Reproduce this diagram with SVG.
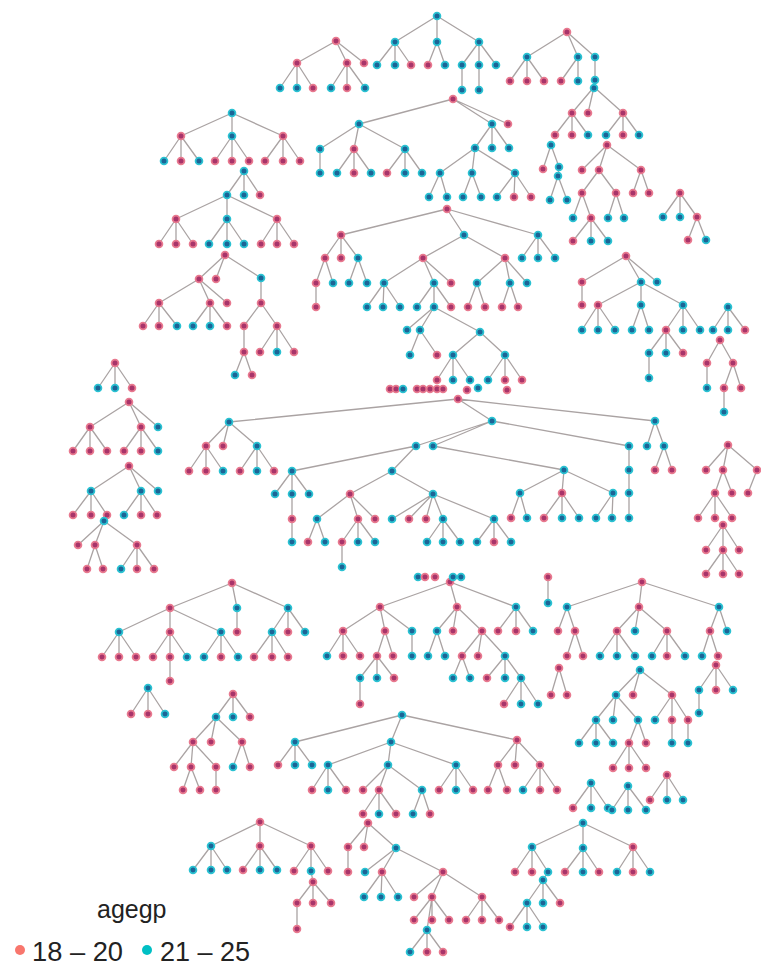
<svg xmlns="http://www.w3.org/2000/svg" width="761" height="969" viewBox="0 0 761 969">
<style>
.e{fill:none;stroke:#aaa3a3;stroke-width:1.3}
circle{r:3.4px;stroke-width:1.8}
.p{fill:#a8346a;stroke:#e8798f}
.t{fill:#1c6496;stroke:#2ac2d2}
.lg{font-family:"Liberation Sans",Arial,sans-serif;fill:#222}
</style>
<rect width="761" height="969" fill="#fff"/>
<g id="connectors" class="e">
<path d="M336 41L297 63M336 41L347 63M336 41L364 63M297 63L280 88M297 63L297 88M297 63L313 88M347 63L331 88M347 63L347 88M347 63L365 88"/>
<path d="M437 16L395 42M437 16L437 42M437 16L479 42M395 42L377 65M395 42L395 65M395 42L411 65M437 42L428 65M437 42L445 65M479 42L462 65M479 42L479 65M479 42L496 65M462 65L462 90M479 65L479 90"/>
<path d="M567 32L527 57M567 32L578 57M567 32L595 57M527 57L510 81M527 57L527 81M527 57L544 81M578 57L561 81M578 57L578 81M595 57L595 87"/>
<path d="M594 87L572 113M594 87L588 113M594 87L623 113M572 113L555 135M572 113L572 135M572 113L588 135M623 113L606 135M623 113L623 135M623 113L639 135"/>
<path d="M551 145L543 169M551 145L559 167L558 176M558 176L550 200M558 176L567 200"/>
<path d="M607 145L582 170M607 145L599 170M607 145L641 170M599 170L582 193M599 170L616 193M641 170L633 193M641 170L649 193M582 193L573 218M582 193L591 218M616 193L608 218M616 193L624 218M591 218L573 241M591 218L591 241M591 218L608 241"/>
<path d="M680 193L663 217M680 193L680 217M680 193L697 217M697 217L688 240M697 217L706 240"/>
<path d="M626 256L582 282M626 256L641 282M626 256L657 282M582 282L582 305M641 282L598 305M641 282L641 305M641 282L683 305M598 305L582 330M598 305L598 330M598 305L615 330M641 305L632 330M641 305L649 330M683 305L666 330M683 305L683 330M683 305L700 330M666 330L649 353M666 330L666 353M666 330L683 353M649 353L649 378"/>
<path d="M728 307L713 330M728 307L728 330M728 307L745 330"/>
<path d="M720 340L707 363M720 340L733 363M707 363L707 388M733 363L724 388M733 363L741 388M724 388L724 412"/>
<path d="M232 113L181 136M232 113L232 136M232 113L283 136M181 136L164 161M181 136L181 161M181 136L199 161M232 136L215 161M232 136L232 161M232 136L249 161M283 136L265 161M283 136L283 161M283 136L300 161"/>
<path d="M244 171L227 195M244 171L244 195M244 171L260 195M227 195L176 219M227 195L227 219M227 195L277 219M176 219L159 244M176 219L176 244M176 219L193 244M227 219L209 244M227 219L227 244M227 219L244 244M277 219L261 244M277 219L277 244M277 219L294 244"/>
<path d="M225 255L199 279M225 255L216 279M225 255L261 278M199 279L159 303M199 279L210 303M199 279L227 303M261 278L261 303M159 303L143 326M159 303L159 326M159 303L177 326M210 303L193 326M210 303L210 326M210 303L227 326M261 303L244 326M261 303L277 326M244 326L244 352M244 352L235 375M244 352L252 375M277 326L260 352M277 326L277 352M277 326L294 352"/>
<path d="M453 99L359 124M453 99L492 124M453 99L508 124M359 124L320 149M359 124L354 149M359 124L405 149M320 149L320 173M354 149L337 173M354 149L354 173M354 149L371 173M405 149L387 173M405 149L405 173M405 149L422 173M492 124L475 148M492 124L492 148M492 124L509 148M475 148L440 173M475 148L472 173M475 148L515 173M440 173L429 197M440 173L447 197M472 173L463 197M472 173L481 197M515 173L497 197M515 173L514 197M515 173L531 197"/>
<path d="M447 209L341 235M447 209L464 235M447 209L538 235M341 235L325 258M341 235L341 258M341 235L358 258M325 258L316 283M325 258L333 283M358 258L349 283M358 258L367 283M316 283L316 307M464 235L423 258M464 235L505 258M423 258L384 283M423 258L434 283M423 258L451 283M384 283L367 307M384 283L383 307M384 283L400 307M434 283L417 307M434 283L434 307M434 283L451 307M505 258L477 283M505 258L510 283M505 258L527 283M477 283L468 307M477 283L485 307M510 283L502 307M510 283L518 307M538 235L522 258M538 235L538 258M538 235L555 258"/>
<path d="M434 307L407 330M434 307L420 330M434 307L480 332M420 330L410 355M420 330L437 355M480 332L453 355M480 332L505 355M453 355L437 380M453 355L453 380M453 355L470 380M505 355L488 380M505 355L505 380M505 355L522 380"/>
<path d="M458 399L229 422M458 399L492 421M458 399L655 421M229 422L206 446M229 422L223 446M229 422L257 446M206 446L189 471M206 446L206 471M206 446L223 471M257 446L240 471M257 446L257 471M257 446L274 471M492 421L416 446M492 421L433 446M492 421L629 446M416 446L292 471M416 446L392 471M292 471L275 494M292 471L292 494M292 471L309 494M292 494L292 519L292 542M392 471L350 494M392 471L433 494M350 494L317 519M350 494L358 519M350 494L375 519M317 519L308 542M317 519L325 542M358 519L342 542M358 519L358 542M358 519L375 542M342 542L342 567M433 494L392 519M433 494L409 519M433 494L426 519M433 494L443 519M433 494L494 519M443 519L427 542M443 519L443 542M443 519L460 542M494 519L477 542M494 519L494 542M494 519L511 542M433 446L564 470M564 470L520 493M564 470L562 493M564 470L613 493M520 493L511 518M520 493L527 518M562 493L544 518M562 493L562 518M562 493L579 518M613 493L596 518M613 493L612 518M629 446L629 470L629 493L629 518M655 421L647 446M655 421L664 446M664 446L655 470M664 446L672 470"/>
<path d="M115 363L98 388M115 363L115 388M115 363L132 388"/>
<path d="M129 402L90 427M129 402L141 427M129 402L158 427M90 427L73 451M90 427L90 451M90 427L107 451M141 427L124 451M141 427L141 451M141 427L158 451"/>
<path d="M129 466L91 491M129 466L141 491M129 466L158 491M91 491L73 515M91 491L91 515M91 491L107 515M141 491L124 515M141 491L141 515M141 491L157 515"/>
<path d="M104 521L78 545M104 521L95 545M104 521L137 545M95 545L87 569M95 545L103 569M137 545L121 569M137 545L137 569M137 545L154 569"/>
<path d="M232 583L170 608M232 583L237 608M232 583L288 608M170 608L119 632M170 608L170 632M170 608L221 632M237 608L237 632M288 608L272 632M288 608L288 632M288 608L305 632M119 632L102 657M119 632L119 657M119 632L136 657M170 632L153 657M170 632L170 657M170 632L187 657M221 632L204 657M221 632L221 657M221 632L238 657M272 632L254 657M272 632L272 657M272 632L288 657M170 657L170 681"/>
<path d="M148 688L131 714M148 688L148 714M148 688L165 714"/>
<path d="M233 694L216 717M233 694L233 717M233 694L250 717M216 717L193 742M216 717L211 742M216 717L242 742M193 742L174 767M193 742L191 767M193 742L216 767M242 742L233 767M242 742L250 767M191 767L183 790M191 767L200 790M216 767L216 790"/>
<path d="M402 715L295 742M402 715L391 742M402 715L517 740M295 742L278 765M295 742L295 765M295 742L312 765M391 742L328 765M391 742L388 765M391 742L456 765M328 765L312 790M328 765L328 790M328 765L346 790M388 765L363 790M388 765L379 790M388 765L422 790M379 790L363 814M379 790L379 814M379 790L396 814M422 790L413 814M422 790L430 814M456 765L439 790M456 765L456 790M456 765L473 790M517 740L498 765M517 740L515 765M517 740L540 765M498 765L488 790M498 765L507 790M540 765L523 790M540 765L540 790M540 765L557 790"/>
<path d="M260 822L211 846M260 822L260 846M260 822L311 846M211 846L193 870M211 846L211 870M211 846L227 870M260 846L243 870M260 846L260 870M260 846L277 870M311 846L294 871M311 846L311 871M311 846L328 871M311 871L313 882M313 882L297 903M313 882L313 903M313 882L331 903M297 903L297 929"/>
<path d="M368 823L348 847M368 823L364 847M368 823L396 848M348 847L348 872M396 848L365 872M396 848L382 872M396 848L443 872M382 872L364 897M382 872L381 897M382 872L398 897M443 872L414 897M443 872L432 897M443 872L482 897M432 897L414 920M432 897L432 920M432 897L449 920M432 897L427 930M427 930L410 952M427 930L427 952M427 930L443 952M482 897L466 920M482 897L482 920M482 897L499 920"/>
<path d="M583 823L532 847M583 823L583 848M583 823L633 847M532 847L515 872M532 847L532 872M532 847L548 872M583 848L565 872M583 848L583 872M583 848L599 872M633 847L617 872M633 847L633 872M633 847L650 872M548 872L543 880M543 880L527 903M543 880L543 903M543 880L560 903M527 903L510 927M527 903L527 927M527 903L543 927"/>
<path d="M450 582L380 607M450 582L457 607M450 582L516 607M380 607L343 631M380 607L385 631M380 607L412 631M457 607L437 631M457 607L453 631M457 607L482 631M516 607L498 631M516 607L516 631M516 607L533 631M343 631L327 656M343 631L343 656M343 631L360 656M385 631L377 656M385 631L393 656M412 631L412 656M437 631L428 656M437 631L445 656M482 631L462 656M482 631L478 656M482 631L505 656M377 656L360 678M377 656L377 678M377 656L394 678M360 678L360 704M462 656L453 678M462 656L470 678M505 656L487 678M505 656L505 678M505 656L521 678M521 678L504 704M521 678L521 704M521 678L538 704"/>
<path d="M548 577L548 603"/>
<path d="M642 582L567 607M642 582L639 607M642 582L719 607M567 607L558 631M567 607L575 631M575 631L567 656M575 631L583 656M639 607L617 631M639 607L635 631M639 607L667 631M617 631L600 656M617 631L617 656M617 631L635 656M667 631L652 656M667 631L667 656M667 631L685 656M719 607L710 631M719 607L727 631M710 631L702 656M710 631L718 656"/>
<path d="M716 665L699 690M716 665L716 690M716 665L733 690M699 690L699 713"/>
<path d="M559 668L551 695M559 668L567 695"/>
<path d="M640 670L616 695M640 670L633 695M640 670L672 695M616 695L596 720M616 695L613 720M616 695L638 720M596 720L579 743M596 720L596 743M596 720L613 743M638 720L629 743M638 720L646 743M629 743L613 768M629 743L629 768M629 743L646 768M672 695L655 720M672 695L672 720M672 695L688 720M672 720L672 743M688 720L688 743"/>
<path d="M591 783L573 808M591 783L591 808M591 783L608 808M628 786L612 810M628 786L628 810M628 786L646 810M667 775L650 800M667 775L667 800M667 775L683 800"/>
<path d="M728 445L706 470M728 445L723 470M728 445L757 470M723 470L715 493M723 470L732 493M757 470L748 493M715 493L698 518M715 493L715 518M715 493L732 518"/>
<path d="M723 525L706 550M723 525L723 550M723 525L739 550M723 550L706 574M723 550L723 574M723 550L739 574"/>
</g>
<g id="tree-a"><circle class="p" cx="336" cy="41"/><circle class="p" cx="297" cy="63"/><circle class="p" cx="347" cy="63"/><circle class="p" cx="364" cy="63"/><circle class="t" cx="280" cy="88"/><circle class="t" cx="297" cy="88"/><circle class="p" cx="313" cy="88"/><circle class="t" cx="331" cy="88"/><circle class="p" cx="347" cy="88"/><circle class="t" cx="365" cy="88"/></g>
<g id="tree-b"><circle class="t" cx="437" cy="16"/><circle class="t" cx="395" cy="42"/><circle class="t" cx="437" cy="42"/><circle class="t" cx="479" cy="42"/><circle class="t" cx="377" cy="65"/><circle class="t" cx="395" cy="65"/><circle class="p" cx="411" cy="65"/><circle class="p" cx="428" cy="65"/><circle class="t" cx="445" cy="65"/><circle class="t" cx="462" cy="65"/><circle class="t" cx="479" cy="65"/><circle class="t" cx="496" cy="65"/><circle class="t" cx="462" cy="90"/><circle class="t" cx="479" cy="90"/></g>
<g id="tree-c"><circle class="p" cx="567" cy="32"/><circle class="t" cx="527" cy="57"/><circle class="t" cx="578" cy="57"/><circle class="t" cx="595" cy="57"/><circle class="p" cx="510" cy="81"/><circle class="p" cx="527" cy="81"/><circle class="p" cx="544" cy="81"/><circle class="p" cx="561" cy="81"/><circle class="t" cx="578" cy="81"/><circle class="t" cx="595" cy="80"/></g>
<g id="tree-c2"><circle class="t" cx="594" cy="88"/><circle class="p" cx="572" cy="113"/><circle class="p" cx="588" cy="113"/><circle class="p" cx="623" cy="113"/><circle class="p" cx="555" cy="135"/><circle class="p" cx="572" cy="135"/><circle class="t" cx="588" cy="135"/><circle class="t" cx="606" cy="135"/><circle class="p" cx="623" cy="135"/><circle class="t" cx="639" cy="135"/></g>
<g id="tree-c3"><circle class="t" cx="551" cy="145"/><circle class="p" cx="543" cy="169"/><circle class="t" cx="559" cy="167"/><circle class="t" cx="558" cy="176"/><circle class="t" cx="550" cy="200"/><circle class="t" cx="567" cy="200"/></g>
<g id="tree-d"><circle class="p" cx="607" cy="145"/><circle class="p" cx="582" cy="170"/><circle class="p" cx="599" cy="170"/><circle class="p" cx="641" cy="170"/><circle class="p" cx="582" cy="193"/><circle class="p" cx="616" cy="193"/><circle class="p" cx="633" cy="193"/><circle class="p" cx="649" cy="193"/><circle class="t" cx="573" cy="218"/><circle class="p" cx="591" cy="218"/><circle class="t" cx="608" cy="218"/><circle class="t" cx="624" cy="218"/><circle class="p" cx="573" cy="241"/><circle class="t" cx="591" cy="241"/><circle class="t" cx="608" cy="241"/></g>
<g id="tree-e"><circle class="p" cx="680" cy="193"/><circle class="t" cx="663" cy="217"/><circle class="t" cx="680" cy="217"/><circle class="p" cx="697" cy="217"/><circle class="p" cx="688" cy="240"/><circle class="t" cx="706" cy="240"/></g>
<g id="tree-f"><circle class="p" cx="626" cy="256"/><circle class="p" cx="582" cy="282"/><circle class="t" cx="641" cy="282"/><circle class="t" cx="657" cy="282"/><circle class="p" cx="582" cy="305"/><circle class="p" cx="598" cy="305"/><circle class="t" cx="641" cy="305"/><circle class="t" cx="683" cy="305"/><circle class="t" cx="582" cy="330"/><circle class="t" cx="598" cy="330"/><circle class="t" cx="615" cy="330"/><circle class="t" cx="632" cy="330"/><circle class="t" cx="649" cy="330"/><circle class="p" cx="666" cy="330"/><circle class="t" cx="683" cy="330"/><circle class="t" cx="700" cy="330"/><circle class="t" cx="649" cy="353"/><circle class="t" cx="666" cy="353"/><circle class="p" cx="683" cy="353"/><circle class="t" cx="649" cy="378"/></g>
<g id="tree-f2"><circle class="t" cx="728" cy="307"/><circle class="t" cx="713" cy="330"/><circle class="t" cx="728" cy="330"/><circle class="p" cx="745" cy="330"/></g>
<g id="tree-f3"><circle class="p" cx="720" cy="340"/><circle class="p" cx="707" cy="363"/><circle class="p" cx="733" cy="363"/><circle class="t" cx="707" cy="388"/><circle class="p" cx="724" cy="388"/><circle class="p" cx="741" cy="388"/><circle class="t" cx="724" cy="412"/></g>
<g id="tree-g"><circle class="t" cx="232" cy="113"/><circle class="p" cx="181" cy="136"/><circle class="t" cx="232" cy="136"/><circle class="p" cx="283" cy="136"/><circle class="t" cx="164" cy="161"/><circle class="p" cx="181" cy="161"/><circle class="t" cx="199" cy="161"/><circle class="p" cx="215" cy="161"/><circle class="p" cx="232" cy="161"/><circle class="p" cx="249" cy="161"/><circle class="p" cx="265" cy="161"/><circle class="p" cx="283" cy="161"/><circle class="p" cx="300" cy="161"/></g>
<g id="tree-h"><circle class="t" cx="244" cy="171"/><circle class="t" cx="227" cy="195"/><circle class="t" cx="244" cy="195"/><circle class="p" cx="260" cy="195"/><circle class="p" cx="176" cy="219"/><circle class="t" cx="227" cy="219"/><circle class="p" cx="277" cy="219"/><circle class="p" cx="159" cy="244"/><circle class="p" cx="176" cy="244"/><circle class="p" cx="193" cy="244"/><circle class="t" cx="209" cy="244"/><circle class="t" cx="227" cy="244"/><circle class="t" cx="244" cy="244"/><circle class="p" cx="261" cy="244"/><circle class="p" cx="277" cy="244"/><circle class="p" cx="294" cy="244"/></g>
<g id="tree-i"><circle class="p" cx="225" cy="255"/><circle class="p" cx="199" cy="279"/><circle class="p" cx="216" cy="279"/><circle class="t" cx="261" cy="278"/><circle class="p" cx="159" cy="303"/><circle class="p" cx="210" cy="303"/><circle class="p" cx="227" cy="303"/><circle class="p" cx="261" cy="303"/><circle class="p" cx="143" cy="326"/><circle class="p" cx="159" cy="326"/><circle class="t" cx="177" cy="326"/><circle class="t" cx="193" cy="326"/><circle class="t" cx="210" cy="326"/><circle class="p" cx="227" cy="326"/><circle class="p" cx="244" cy="326"/><circle class="p" cx="277" cy="326"/><circle class="p" cx="244" cy="352"/><circle class="t" cx="235" cy="375"/><circle class="p" cx="252" cy="375"/><circle class="p" cx="260" cy="352"/><circle class="t" cx="277" cy="352"/><circle class="p" cx="294" cy="352"/></g>
<g id="tree-j"><circle class="p" cx="453" cy="99"/><circle class="t" cx="359" cy="124"/><circle class="t" cx="492" cy="124"/><circle class="p" cx="508" cy="124"/><circle class="t" cx="320" cy="149"/><circle class="p" cx="354" cy="149"/><circle class="t" cx="405" cy="149"/><circle class="t" cx="320" cy="173"/><circle class="t" cx="337" cy="173"/><circle class="p" cx="354" cy="173"/><circle class="t" cx="371" cy="173"/><circle class="p" cx="387" cy="173"/><circle class="t" cx="405" cy="173"/><circle class="t" cx="422" cy="173"/><circle class="t" cx="475" cy="148"/><circle class="t" cx="492" cy="148"/><circle class="t" cx="509" cy="148"/><circle class="t" cx="440" cy="173"/><circle class="t" cx="472" cy="173"/><circle class="t" cx="515" cy="173"/><circle class="t" cx="429" cy="197"/><circle class="t" cx="447" cy="197"/><circle class="t" cx="463" cy="197"/><circle class="t" cx="481" cy="197"/><circle class="t" cx="497" cy="197"/><circle class="p" cx="514" cy="197"/><circle class="p" cx="531" cy="197"/></g>
<g id="tree-k"><circle class="p" cx="447" cy="209"/><circle class="p" cx="341" cy="235"/><circle class="t" cx="464" cy="235"/><circle class="t" cx="538" cy="235"/><circle class="p" cx="325" cy="258"/><circle class="p" cx="341" cy="258"/><circle class="t" cx="358" cy="258"/><circle class="p" cx="316" cy="283"/><circle class="t" cx="333" cy="283"/><circle class="t" cx="349" cy="283"/><circle class="t" cx="367" cy="283"/><circle class="p" cx="316" cy="307"/><circle class="p" cx="423" cy="258"/><circle class="p" cx="505" cy="258"/><circle class="t" cx="384" cy="283"/><circle class="t" cx="434" cy="283"/><circle class="p" cx="451" cy="283"/><circle class="t" cx="367" cy="307"/><circle class="t" cx="383" cy="307"/><circle class="t" cx="400" cy="307"/><circle class="t" cx="417" cy="307"/><circle class="t" cx="434" cy="307"/><circle class="p" cx="451" cy="307"/><circle class="t" cx="477" cy="283"/><circle class="t" cx="510" cy="283"/><circle class="t" cx="527" cy="283"/><circle class="p" cx="468" cy="307"/><circle class="p" cx="485" cy="307"/><circle class="p" cx="502" cy="307"/><circle class="p" cx="518" cy="307"/><circle class="t" cx="522" cy="258"/><circle class="t" cx="538" cy="258"/><circle class="t" cx="555" cy="258"/></g>
<g id="tree-w"><circle class="t" cx="407" cy="330"/><circle class="t" cx="420" cy="330"/><circle class="t" cx="480" cy="332"/><circle class="t" cx="410" cy="355"/><circle class="p" cx="437" cy="355"/><circle class="t" cx="453" cy="355"/><circle class="t" cx="505" cy="355"/><circle class="p" cx="437" cy="380"/><circle class="t" cx="453" cy="380"/><circle class="t" cx="470" cy="380"/><circle class="t" cx="488" cy="380"/><circle class="p" cx="505" cy="380"/><circle class="p" cx="522" cy="380"/></g>
<g id="cluster-388"><circle class="p" cx="390" cy="389"/><circle class="p" cx="396" cy="389"/><circle class="t" cx="403" cy="389"/><circle class="p" cx="417" cy="389"/><circle class="p" cx="423" cy="389"/><circle class="p" cx="430" cy="389"/><circle class="p" cx="437" cy="389"/><circle class="p" cx="443" cy="389"/><circle class="p" cx="467" cy="390"/><circle class="t" cx="478" cy="388"/><circle class="p" cx="507" cy="390"/></g>
<g id="tree-x"><circle class="p" cx="458" cy="399"/><circle class="t" cx="229" cy="422"/><circle class="t" cx="492" cy="421"/><circle class="t" cx="655" cy="421"/><circle class="p" cx="206" cy="446"/><circle class="p" cx="223" cy="446"/><circle class="t" cx="257" cy="446"/><circle class="p" cx="189" cy="471"/><circle class="p" cx="206" cy="471"/><circle class="t" cx="223" cy="471"/><circle class="p" cx="240" cy="471"/><circle class="t" cx="257" cy="471"/><circle class="p" cx="274" cy="471"/><circle class="t" cx="416" cy="446"/><circle class="t" cx="433" cy="446"/><circle class="t" cx="629" cy="446"/><circle class="t" cx="292" cy="471"/><circle class="t" cx="275" cy="494"/><circle class="t" cx="292" cy="494"/><circle class="t" cx="309" cy="494"/><circle class="p" cx="292" cy="519"/><circle class="t" cx="292" cy="542"/><circle class="t" cx="392" cy="471"/><circle class="p" cx="350" cy="494"/><circle class="t" cx="433" cy="494"/><circle class="t" cx="317" cy="519"/><circle class="p" cx="358" cy="519"/><circle class="p" cx="375" cy="519"/><circle class="p" cx="308" cy="542"/><circle class="t" cx="325" cy="542"/><circle class="p" cx="342" cy="542"/><circle class="t" cx="358" cy="542"/><circle class="t" cx="375" cy="542"/><circle class="t" cx="342" cy="567"/><circle class="t" cx="392" cy="519"/><circle class="p" cx="409" cy="519"/><circle class="p" cx="426" cy="519"/><circle class="t" cx="443" cy="519"/><circle class="t" cx="494" cy="519"/><circle class="t" cx="427" cy="542"/><circle class="t" cx="443" cy="542"/><circle class="t" cx="460" cy="542"/><circle class="t" cx="477" cy="542"/><circle class="p" cx="494" cy="542"/><circle class="t" cx="511" cy="542"/><circle class="t" cx="564" cy="470"/><circle class="t" cx="520" cy="493"/><circle class="p" cx="562" cy="493"/><circle class="t" cx="613" cy="493"/><circle class="p" cx="511" cy="518"/><circle class="t" cx="527" cy="518"/><circle class="p" cx="544" cy="518"/><circle class="t" cx="562" cy="518"/><circle class="t" cx="579" cy="518"/><circle class="t" cx="596" cy="518"/><circle class="t" cx="612" cy="518"/><circle class="t" cx="629" cy="470"/><circle class="t" cx="629" cy="493"/><circle class="t" cx="629" cy="518"/><circle class="t" cx="647" cy="446"/><circle class="t" cx="664" cy="446"/><circle class="p" cx="655" cy="470"/><circle class="p" cx="672" cy="470"/></g>
<g id="tree-l"><circle class="p" cx="115" cy="363"/><circle class="t" cx="98" cy="388"/><circle class="t" cx="115" cy="388"/><circle class="p" cx="132" cy="388"/></g>
<g id="tree-m"><circle class="p" cx="129" cy="402"/><circle class="p" cx="90" cy="427"/><circle class="p" cx="141" cy="427"/><circle class="t" cx="158" cy="427"/><circle class="p" cx="73" cy="451"/><circle class="p" cx="90" cy="451"/><circle class="p" cx="107" cy="451"/><circle class="p" cx="124" cy="451"/><circle class="p" cx="141" cy="451"/><circle class="t" cx="158" cy="451"/></g>
<g id="tree-n"><circle class="p" cx="129" cy="466"/><circle class="t" cx="91" cy="491"/><circle class="t" cx="141" cy="491"/><circle class="t" cx="158" cy="491"/><circle class="p" cx="73" cy="515"/><circle class="p" cx="91" cy="515"/><circle class="p" cx="107" cy="515"/><circle class="t" cx="124" cy="515"/><circle class="p" cx="141" cy="515"/><circle class="p" cx="157" cy="515"/></g>
<g id="tree-o"><circle class="t" cx="104" cy="521"/><circle class="p" cx="78" cy="545"/><circle class="p" cx="95" cy="545"/><circle class="p" cx="137" cy="545"/><circle class="p" cx="87" cy="569"/><circle class="p" cx="103" cy="569"/><circle class="t" cx="121" cy="569"/><circle class="p" cx="137" cy="569"/><circle class="p" cx="154" cy="569"/></g>
<g id="tree-p"><circle class="p" cx="232" cy="583"/><circle class="p" cx="170" cy="608"/><circle class="t" cx="237" cy="608"/><circle class="t" cx="288" cy="608"/><circle class="t" cx="119" cy="632"/><circle class="p" cx="170" cy="632"/><circle class="t" cx="221" cy="632"/><circle class="p" cx="237" cy="632"/><circle class="t" cx="272" cy="632"/><circle class="p" cx="288" cy="632"/><circle class="t" cx="305" cy="632"/><circle class="p" cx="102" cy="657"/><circle class="p" cx="119" cy="657"/><circle class="p" cx="136" cy="657"/><circle class="p" cx="153" cy="657"/><circle class="p" cx="170" cy="657"/><circle class="t" cx="187" cy="657"/><circle class="t" cx="204" cy="657"/><circle class="p" cx="221" cy="657"/><circle class="t" cx="238" cy="657"/><circle class="p" cx="254" cy="657"/><circle class="p" cx="272" cy="657"/><circle class="p" cx="288" cy="657"/><circle class="p" cx="170" cy="681"/></g>
<g id="tree-q"><circle class="t" cx="148" cy="688"/><circle class="p" cx="131" cy="714"/><circle class="p" cx="148" cy="714"/><circle class="t" cx="165" cy="714"/></g>
<g id="tree-r"><circle class="p" cx="233" cy="694"/><circle class="t" cx="216" cy="717"/><circle class="t" cx="233" cy="717"/><circle class="p" cx="250" cy="717"/><circle class="p" cx="193" cy="742"/><circle class="p" cx="211" cy="742"/><circle class="p" cx="242" cy="742"/><circle class="p" cx="174" cy="767"/><circle class="p" cx="191" cy="767"/><circle class="p" cx="216" cy="767"/><circle class="t" cx="233" cy="767"/><circle class="p" cx="250" cy="767"/><circle class="p" cx="183" cy="790"/><circle class="p" cx="200" cy="790"/><circle class="p" cx="216" cy="790"/></g>
<g id="tree-s"><circle class="t" cx="402" cy="715"/><circle class="t" cx="295" cy="742"/><circle class="t" cx="391" cy="742"/><circle class="p" cx="517" cy="740"/><circle class="p" cx="278" cy="765"/><circle class="t" cx="295" cy="765"/><circle class="t" cx="312" cy="765"/><circle class="t" cx="328" cy="765"/><circle class="t" cx="388" cy="765"/><circle class="t" cx="456" cy="765"/><circle class="p" cx="312" cy="790"/><circle class="t" cx="328" cy="790"/><circle class="p" cx="346" cy="790"/><circle class="p" cx="363" cy="790"/><circle class="p" cx="379" cy="790"/><circle class="t" cx="422" cy="790"/><circle class="p" cx="363" cy="814"/><circle class="t" cx="379" cy="814"/><circle class="p" cx="396" cy="814"/><circle class="t" cx="413" cy="814"/><circle class="p" cx="430" cy="814"/><circle class="p" cx="439" cy="790"/><circle class="t" cx="456" cy="790"/><circle class="p" cx="473" cy="790"/><circle class="p" cx="498" cy="765"/><circle class="p" cx="515" cy="765"/><circle class="p" cx="540" cy="765"/><circle class="p" cx="488" cy="790"/><circle class="p" cx="507" cy="790"/><circle class="t" cx="523" cy="790"/><circle class="p" cx="540" cy="790"/><circle class="p" cx="557" cy="790"/></g>
<g id="tree-t"><circle class="p" cx="260" cy="822"/><circle class="t" cx="211" cy="846"/><circle class="p" cx="260" cy="846"/><circle class="p" cx="311" cy="846"/><circle class="t" cx="193" cy="870"/><circle class="t" cx="211" cy="870"/><circle class="t" cx="227" cy="870"/><circle class="p" cx="243" cy="870"/><circle class="t" cx="260" cy="870"/><circle class="t" cx="277" cy="870"/><circle class="p" cx="294" cy="871"/><circle class="t" cx="311" cy="871"/><circle class="p" cx="328" cy="871"/><circle class="p" cx="313" cy="882"/><circle class="p" cx="297" cy="903"/><circle class="p" cx="313" cy="903"/><circle class="p" cx="331" cy="903"/><circle class="p" cx="297" cy="929"/></g>
<g id="tree-u"><circle class="p" cx="368" cy="823"/><circle class="p" cx="348" cy="847"/><circle class="p" cx="364" cy="847"/><circle class="t" cx="396" cy="848"/><circle class="p" cx="348" cy="872"/><circle class="t" cx="365" cy="872"/><circle class="p" cx="382" cy="872"/><circle class="p" cx="443" cy="872"/><circle class="t" cx="364" cy="897"/><circle class="t" cx="381" cy="897"/><circle class="t" cx="398" cy="897"/><circle class="p" cx="414" cy="897"/><circle class="p" cx="432" cy="897"/><circle class="p" cx="482" cy="897"/><circle class="p" cx="414" cy="920"/><circle class="p" cx="432" cy="920"/><circle class="p" cx="449" cy="920"/><circle class="p" cx="466" cy="920"/><circle class="p" cx="482" cy="920"/><circle class="p" cx="499" cy="920"/><circle class="t" cx="427" cy="930"/><circle class="t" cx="410" cy="952"/><circle class="p" cx="427" cy="952"/><circle class="p" cx="443" cy="952"/></g>
<g id="tree-z"><circle class="t" cx="583" cy="823"/><circle class="t" cx="532" cy="847"/><circle class="t" cx="583" cy="848"/><circle class="p" cx="633" cy="847"/><circle class="p" cx="515" cy="872"/><circle class="p" cx="532" cy="872"/><circle class="t" cx="548" cy="872"/><circle class="p" cx="565" cy="872"/><circle class="t" cx="583" cy="872"/><circle class="p" cx="599" cy="872"/><circle class="t" cx="617" cy="872"/><circle class="p" cx="633" cy="872"/><circle class="t" cx="650" cy="872"/><circle class="t" cx="543" cy="880"/><circle class="t" cx="527" cy="903"/><circle class="t" cx="543" cy="903"/><circle class="p" cx="560" cy="903"/><circle class="p" cx="510" cy="927"/><circle class="t" cx="527" cy="927"/><circle class="t" cx="543" cy="927"/></g>
<g id="tree-v"><circle class="p" cx="450" cy="582"/><circle class="p" cx="380" cy="607"/><circle class="p" cx="457" cy="607"/><circle class="t" cx="516" cy="607"/><circle class="p" cx="343" cy="631"/><circle class="p" cx="385" cy="631"/><circle class="t" cx="412" cy="631"/><circle class="t" cx="437" cy="631"/><circle class="p" cx="453" cy="631"/><circle class="p" cx="482" cy="631"/><circle class="p" cx="498" cy="631"/><circle class="p" cx="516" cy="631"/><circle class="t" cx="533" cy="631"/><circle class="t" cx="327" cy="656"/><circle class="p" cx="343" cy="656"/><circle class="p" cx="360" cy="656"/><circle class="p" cx="377" cy="656"/><circle class="p" cx="393" cy="656"/><circle class="t" cx="412" cy="656"/><circle class="t" cx="428" cy="656"/><circle class="t" cx="445" cy="656"/><circle class="p" cx="462" cy="656"/><circle class="p" cx="478" cy="656"/><circle class="t" cx="505" cy="656"/><circle class="t" cx="360" cy="678"/><circle class="t" cx="377" cy="678"/><circle class="p" cx="394" cy="678"/><circle class="p" cx="360" cy="704"/><circle class="t" cx="453" cy="678"/><circle class="t" cx="470" cy="678"/><circle class="p" cx="487" cy="678"/><circle class="t" cx="505" cy="678"/><circle class="t" cx="521" cy="678"/><circle class="p" cx="504" cy="704"/><circle class="t" cx="521" cy="704"/><circle class="t" cx="538" cy="704"/></g>
<g id="cluster-577"><circle class="t" cx="418" cy="577"/><circle class="p" cx="425" cy="577"/><circle class="p" cx="435" cy="577"/><circle class="t" cx="453" cy="577"/><circle class="t" cx="461" cy="577"/></g>
<g id="tree-y"><circle class="p" cx="548" cy="577"/><circle class="t" cx="548" cy="603"/></g>
<g id="tree-aa"><circle class="p" cx="642" cy="582"/><circle class="t" cx="567" cy="607"/><circle class="p" cx="639" cy="607"/><circle class="t" cx="719" cy="607"/><circle class="p" cx="558" cy="631"/><circle class="p" cx="575" cy="631"/><circle class="p" cx="567" cy="656"/><circle class="p" cx="583" cy="656"/><circle class="p" cx="617" cy="631"/><circle class="t" cx="635" cy="631"/><circle class="p" cx="667" cy="631"/><circle class="t" cx="600" cy="656"/><circle class="t" cx="617" cy="656"/><circle class="t" cx="635" cy="656"/><circle class="t" cx="652" cy="656"/><circle class="p" cx="667" cy="656"/><circle class="t" cx="685" cy="656"/><circle class="p" cx="710" cy="631"/><circle class="t" cx="727" cy="631"/><circle class="t" cx="702" cy="656"/><circle class="p" cx="718" cy="656"/></g>
<g id="tree-ab"><circle class="p" cx="716" cy="665"/><circle class="t" cx="699" cy="690"/><circle class="p" cx="716" cy="690"/><circle class="t" cx="733" cy="690"/><circle class="t" cx="699" cy="713"/></g>
<g id="tree-ac"><circle class="p" cx="559" cy="668"/><circle class="p" cx="551" cy="695"/><circle class="p" cx="567" cy="695"/></g>
<g id="tree-ad"><circle class="t" cx="640" cy="670"/><circle class="t" cx="616" cy="695"/><circle class="p" cx="633" cy="695"/><circle class="p" cx="672" cy="695"/><circle class="t" cx="596" cy="720"/><circle class="t" cx="613" cy="720"/><circle class="t" cx="638" cy="720"/><circle class="t" cx="579" cy="743"/><circle class="t" cx="596" cy="743"/><circle class="t" cx="613" cy="743"/><circle class="p" cx="629" cy="743"/><circle class="p" cx="646" cy="743"/><circle class="p" cx="613" cy="768"/><circle class="p" cx="629" cy="768"/><circle class="p" cx="646" cy="768"/><circle class="t" cx="655" cy="720"/><circle class="p" cx="672" cy="720"/><circle class="p" cx="688" cy="720"/><circle class="t" cx="672" cy="743"/><circle class="t" cx="688" cy="743"/></g>
<g id="tree-ae"><circle class="t" cx="591" cy="783"/><circle class="p" cx="573" cy="808"/><circle class="t" cx="591" cy="808"/><circle class="t" cx="608" cy="808"/></g>
<g id="tree-af"><circle class="t" cx="628" cy="786"/><circle class="t" cx="612" cy="810"/><circle class="t" cx="628" cy="810"/><circle class="t" cx="646" cy="810"/></g>
<g id="tree-ag"><circle class="p" cx="667" cy="775"/><circle class="p" cx="650" cy="800"/><circle class="t" cx="667" cy="800"/><circle class="t" cx="683" cy="800"/></g>
<g id="tree-ah"><circle class="p" cx="728" cy="445"/><circle class="p" cx="706" cy="470"/><circle class="p" cx="723" cy="470"/><circle class="p" cx="757" cy="470"/><circle class="p" cx="715" cy="493"/><circle class="p" cx="732" cy="493"/><circle class="p" cx="748" cy="493"/><circle class="p" cx="698" cy="518"/><circle class="p" cx="715" cy="518"/><circle class="p" cx="732" cy="518"/></g>
<g id="tree-ai"><circle class="p" cx="723" cy="525"/><circle class="p" cx="706" cy="550"/><circle class="p" cx="723" cy="550"/><circle class="p" cx="739" cy="550"/><circle class="p" cx="706" cy="574"/><circle class="p" cx="723" cy="574"/><circle class="p" cx="739" cy="574"/></g>
<g id="legend">
<text class="lg" x="97" y="918" font-size="25">agegp</text>
<circle cx="20" cy="950" style="r:5px;stroke:none" fill="#f8766d"/>
<text class="lg" x="32" y="961" font-size="27" textLength="91" lengthAdjust="spacingAndGlyphs">18 – 20</text>
<circle cx="147" cy="950" style="r:5px;stroke:none" fill="#00bfc4"/>
<text class="lg" x="160" y="961" font-size="27" textLength="90" lengthAdjust="spacingAndGlyphs">21 – 25</text>
</g>
</svg>
